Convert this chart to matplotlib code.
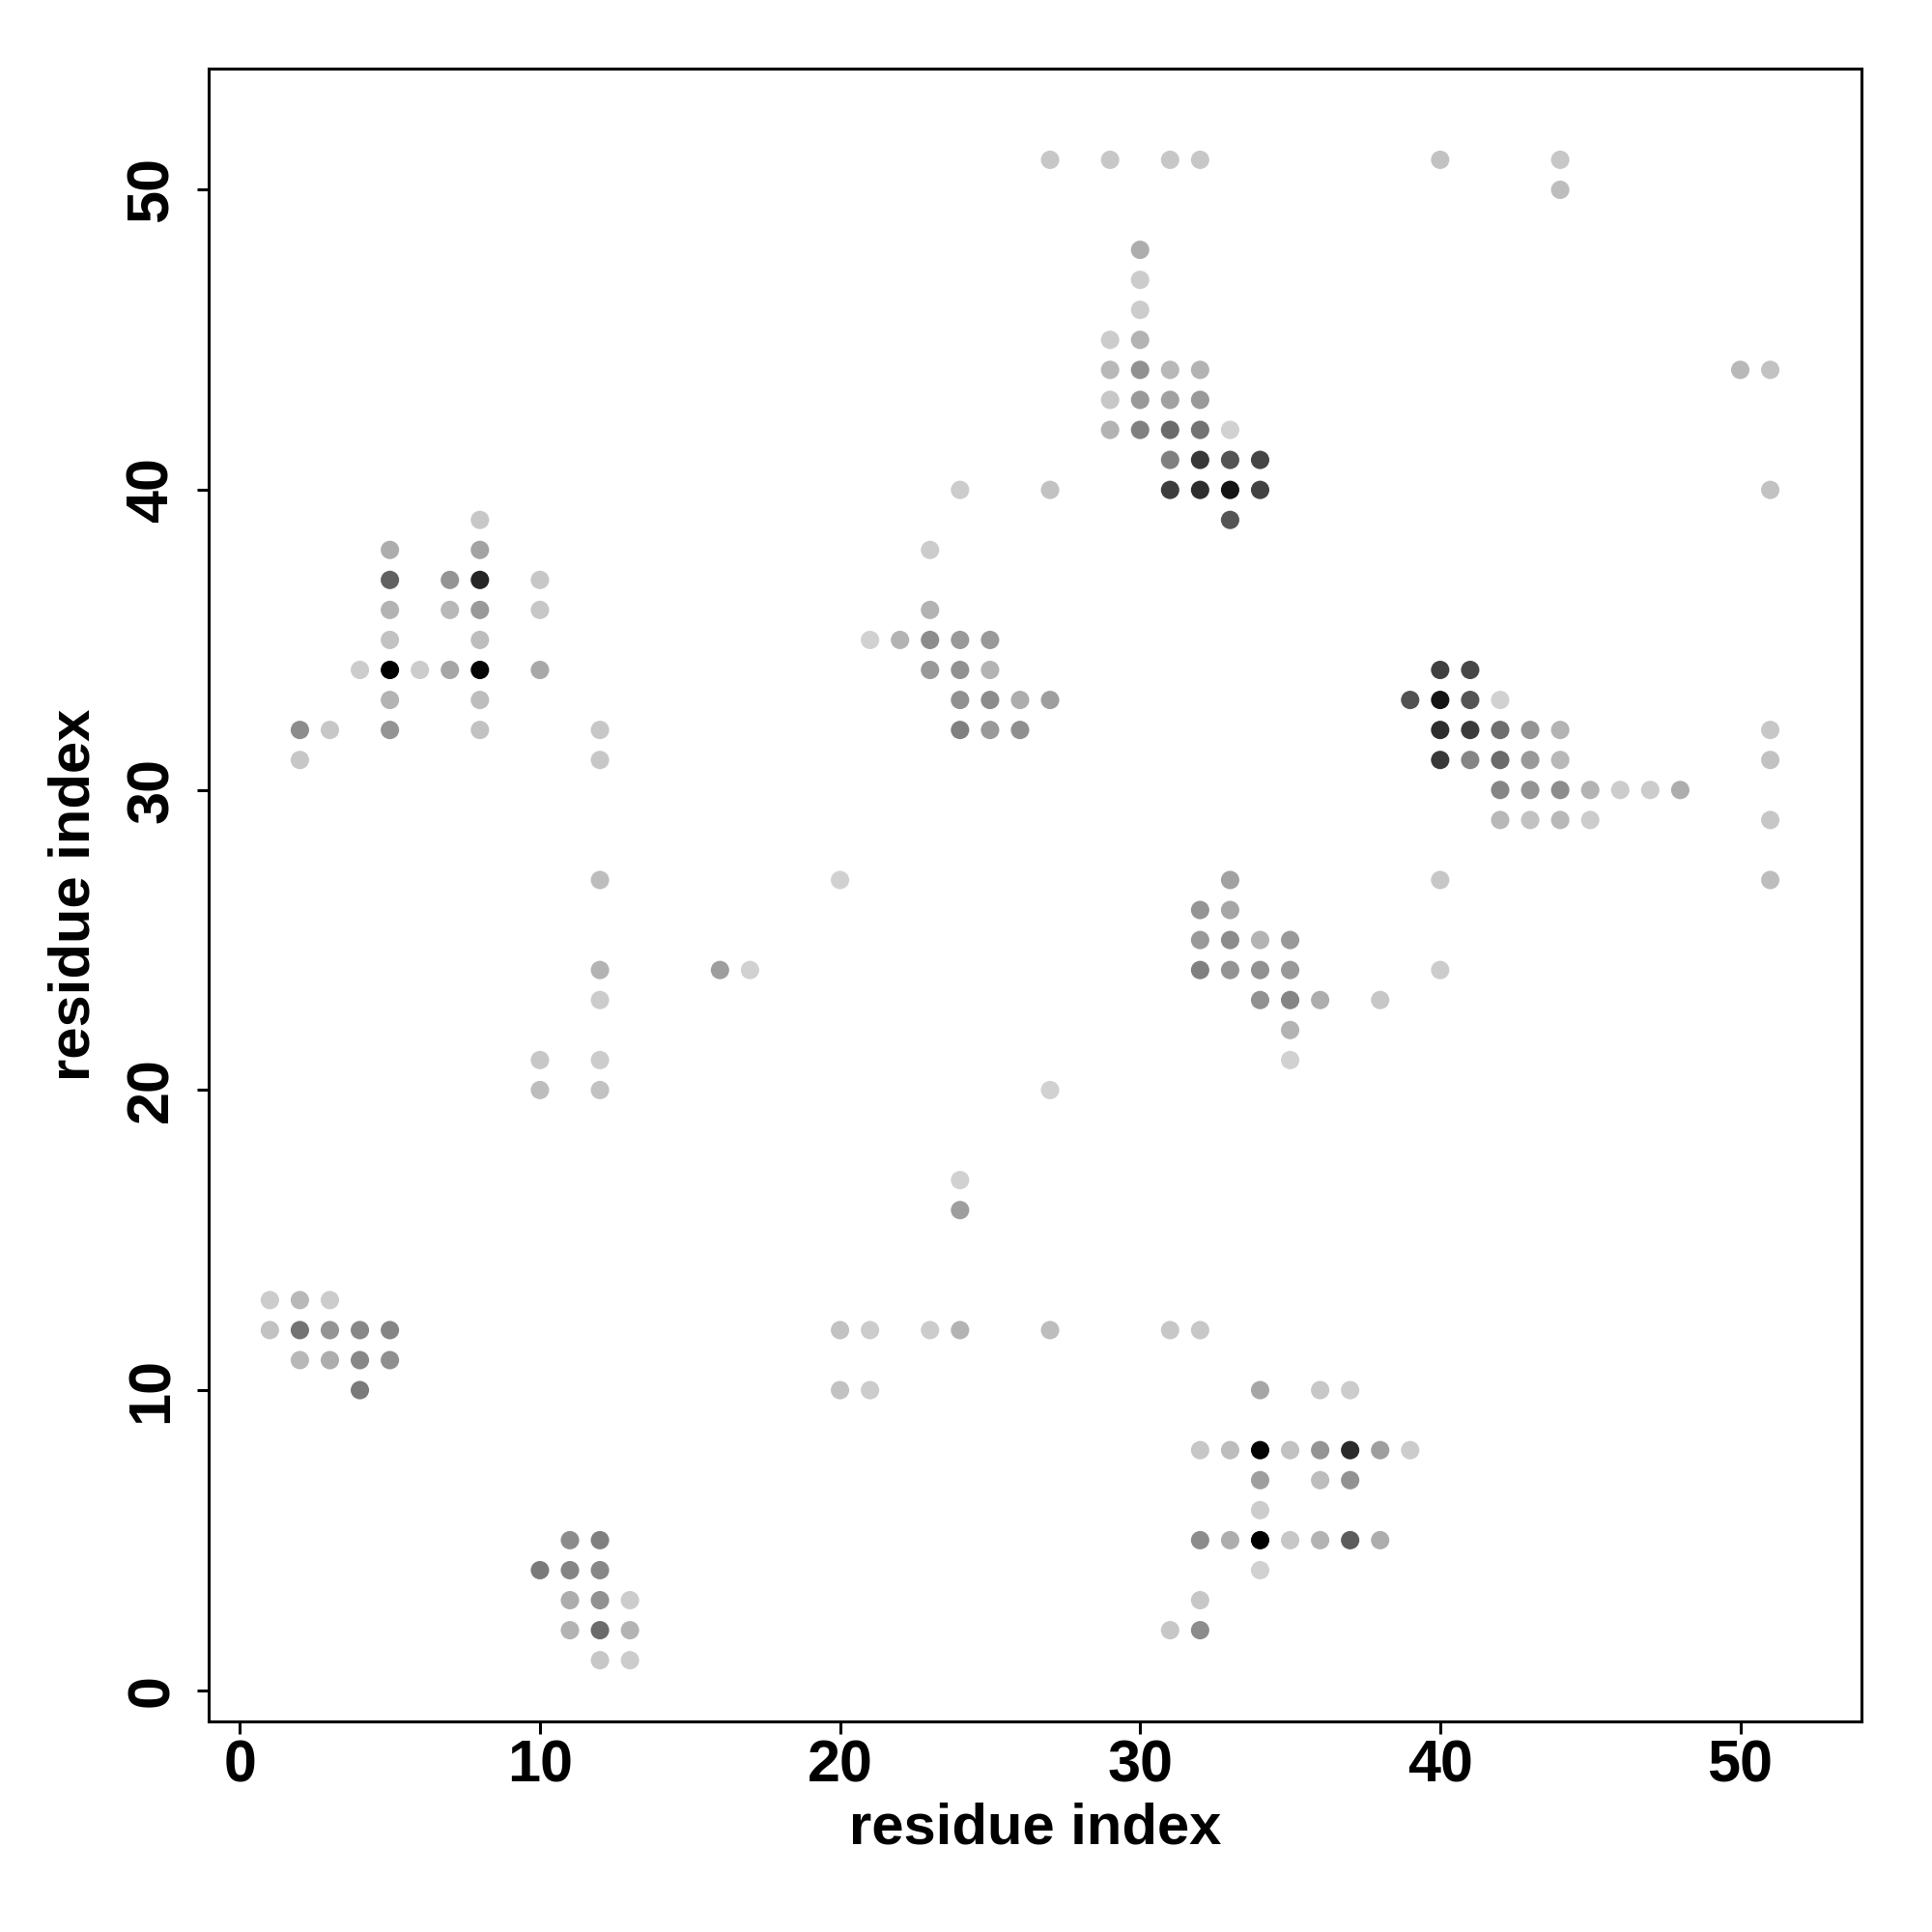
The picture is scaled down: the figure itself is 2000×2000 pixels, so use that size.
import matplotlib
matplotlib.use("Agg")
import matplotlib.pyplot as plt
import numpy as np

# contact map points: residue i, residue j, grey level (0 = black, 1 = white)
res_i = [
    2, 2, 3, 4, 5, 5, 5, 5, 5, 5, 5, 6, 7, 7, 7,
    8, 8, 8, 8, 8, 8, 8, 8, 10, 10, 10, 12, 12,
    24, 27, 23, 23, 21, 22, 23, 24, 25, 23, 24, 25, 24, 25, 26, 27, 24, 25, 26,
    27, 29, 31, 32, 40, 44, 44, 50, 51, 51,
    30, 30, 30, 29, 30, 29, 30, 31, 32, 29, 30, 31, 32, 29, 30, 31, 32, 33,
    31, 32, 33, 34, 31, 32, 33, 34, 33,
    40, 41, 39, 40, 41, 42, 40, 41, 42, 43, 44, 40, 41, 42, 43, 44, 51, 51,
    42, 43, 44, 45, 46, 47, 48, 42, 43, 44, 45, 51, 40, 51, 40,
    33, 32, 33, 32, 33, 34, 35, 32, 33, 34, 35, 34, 35, 36, 38, 35, 35,
    12, 20, 12, 16, 17, 12, 10, 12, 10, 12, 27, 24, 24,
    20, 21, 23, 24, 27, 31, 32, 20, 21,
    1, 2, 3, 1, 2, 3, 4, 5, 2, 3, 4, 5, 4,
    11, 12, 10, 11, 12, 11, 12, 13, 11, 12, 13, 12, 13,
    34, 36, 37, 32, 33, 34, 35, 36, 37, 38, 39, 34, 36, 37, 34,
    32, 33, 34, 35, 36, 37, 38, 34, 32, 31, 32,
]
res_j = [
    32, 31, 32, 34, 38, 37, 36, 35, 34, 33, 32, 34, 37, 36, 34,
    39, 38, 37, 36, 35, 34, 33, 32, 37, 36, 34, 32, 31,
    40, 40, 38, 36, 35, 35, 35, 35, 35, 34, 34, 34, 33, 33, 33, 33, 32, 32, 32,
    51, 51, 51, 51, 51, 51, 50, 44, 44, 40,
    48, 47, 46, 45, 45, 44, 44, 44, 44, 43, 43, 43, 43, 42, 42, 42, 42, 42,
    41, 41, 41, 41, 40, 40, 40, 40, 39,
    34, 34, 33, 33, 33, 33, 32, 32, 32, 32, 32, 31, 31, 31, 31, 31, 32, 31,
    30, 30, 30, 30, 30, 30, 30, 29, 29, 29, 29, 29, 27, 27, 24,
    27, 26, 26, 25, 25, 25, 25, 24, 24, 24, 24, 23, 23, 23, 23, 22, 21,
    27, 27, 24, 24, 24, 23, 21, 21, 20, 20, 20, 17, 16,
    12, 12, 12, 12, 12, 12, 12, 10, 10,
    13, 13, 13, 12, 12, 12, 12, 12, 11, 11, 11, 11, 10,
    5, 5, 4, 4, 4, 3, 3, 3, 2, 2, 2, 1, 1,
    10, 10, 10, 8, 8, 8, 8, 8, 8, 8, 8, 7, 7, 7, 6,
    5, 5, 5, 5, 5, 5, 5, 4, 3, 2, 2,
]
grey = [
    0.55, 0.78, 0.78, 0.80, 0.68, 0.38, 0.70, 0.76, 0.00, 0.70, 0.58, 0.80, 0.58, 0.72, 0.65,
    0.78, 0.64, 0.15, 0.60, 0.74, 0.02, 0.74, 0.76, 0.78, 0.78, 0.66, 0.78, 0.78,
    0.80, 0.76, 0.80, 0.70, 0.82, 0.70, 0.55, 0.60, 0.60, 0.60, 0.57, 0.70, 0.57, 0.55, 0.68, 0.62, 0.50, 0.60, 0.56,
    0.78, 0.78, 0.78, 0.78, 0.76, 0.78, 0.74, 0.72, 0.76, 0.76,
    0.68, 0.80, 0.80, 0.80, 0.70, 0.72, 0.57, 0.72, 0.70, 0.78, 0.60, 0.63, 0.60, 0.70, 0.50, 0.42, 0.45, 0.82,
    0.50, 0.22, 0.33, 0.27, 0.24, 0.18, 0.08, 0.26, 0.33,
    0.25, 0.28, 0.32, 0.08, 0.33, 0.82, 0.18, 0.23, 0.43, 0.58, 0.70, 0.22, 0.52, 0.42, 0.60, 0.72, 0.78, 0.76,
    0.52, 0.58, 0.55, 0.70, 0.80, 0.80, 0.68, 0.72, 0.76, 0.72, 0.80, 0.78, 0.78, 0.74, 0.80,
    0.63, 0.58, 0.65, 0.60, 0.55, 0.70, 0.60, 0.50, 0.58, 0.57, 0.60, 0.57, 0.52, 0.68, 0.78, 0.70, 0.82,
    0.74, 0.82, 0.70, 0.62, 0.82, 0.80, 0.78, 0.80, 0.74, 0.76, 0.82, 0.82, 0.62,
    0.76, 0.80, 0.80, 0.70, 0.74, 0.78, 0.78, 0.76, 0.80,
    0.80, 0.72, 0.80, 0.76, 0.45, 0.58, 0.53, 0.52, 0.72, 0.68, 0.53, 0.56, 0.48,
    0.55, 0.50, 0.48, 0.52, 0.53, 0.68, 0.57, 0.80, 0.70, 0.42, 0.70, 0.78, 0.80,
    0.65, 0.78, 0.80, 0.78, 0.74, 0.02, 0.76, 0.58, 0.17, 0.62, 0.80, 0.62, 0.74, 0.57, 0.80,
    0.55, 0.68, 0.00, 0.78, 0.70, 0.36, 0.68, 0.82, 0.78, 0.78, 0.55,
]

x_ticks = [0, 10, 20, 30, 40, 50]
y_ticks = [0, 10, 20, 30, 40, 50]

plt.rcParams['font.family'] = ['Liberation Sans', 'DejaVu Sans']

fig = plt.figure(figsize=(10, 10), dpi=200)
ax = fig.add_axes([0.108, 0.109, 0.8555, 0.8555])

cols = [str(g) for g in grey]
ax.scatter(res_i, res_j, s=47, c=cols, marker='o', linewidths=0)

ax.set_xlim(-1.04, 54.04)
ax.set_ylim(-1.04, 54.04)
ax.set_xticks(x_ticks)
ax.set_yticks(y_ticks)
ax.set_xticklabels([str(t) for t in x_ticks], fontsize=22, fontweight='bold')
ax.set_yticklabels([str(t) for t in y_ticks], fontsize=22, fontweight='bold',
                   rotation=90, va='center')
ax.tick_params(direction='out', length=4.5, width=1.1, pad=2)
ax.tick_params(axis='y', pad=6)
for sp in ax.spines.values():
    sp.set_linewidth(1.1)

ax.set_xlabel('residue index', fontsize=21.5, fontweight='bold', labelpad=3)
ax.set_ylabel('residue index', fontsize=21.5, fontweight='bold', labelpad=9)

fig.savefig('out.png', dpi=200, facecolor='white')
